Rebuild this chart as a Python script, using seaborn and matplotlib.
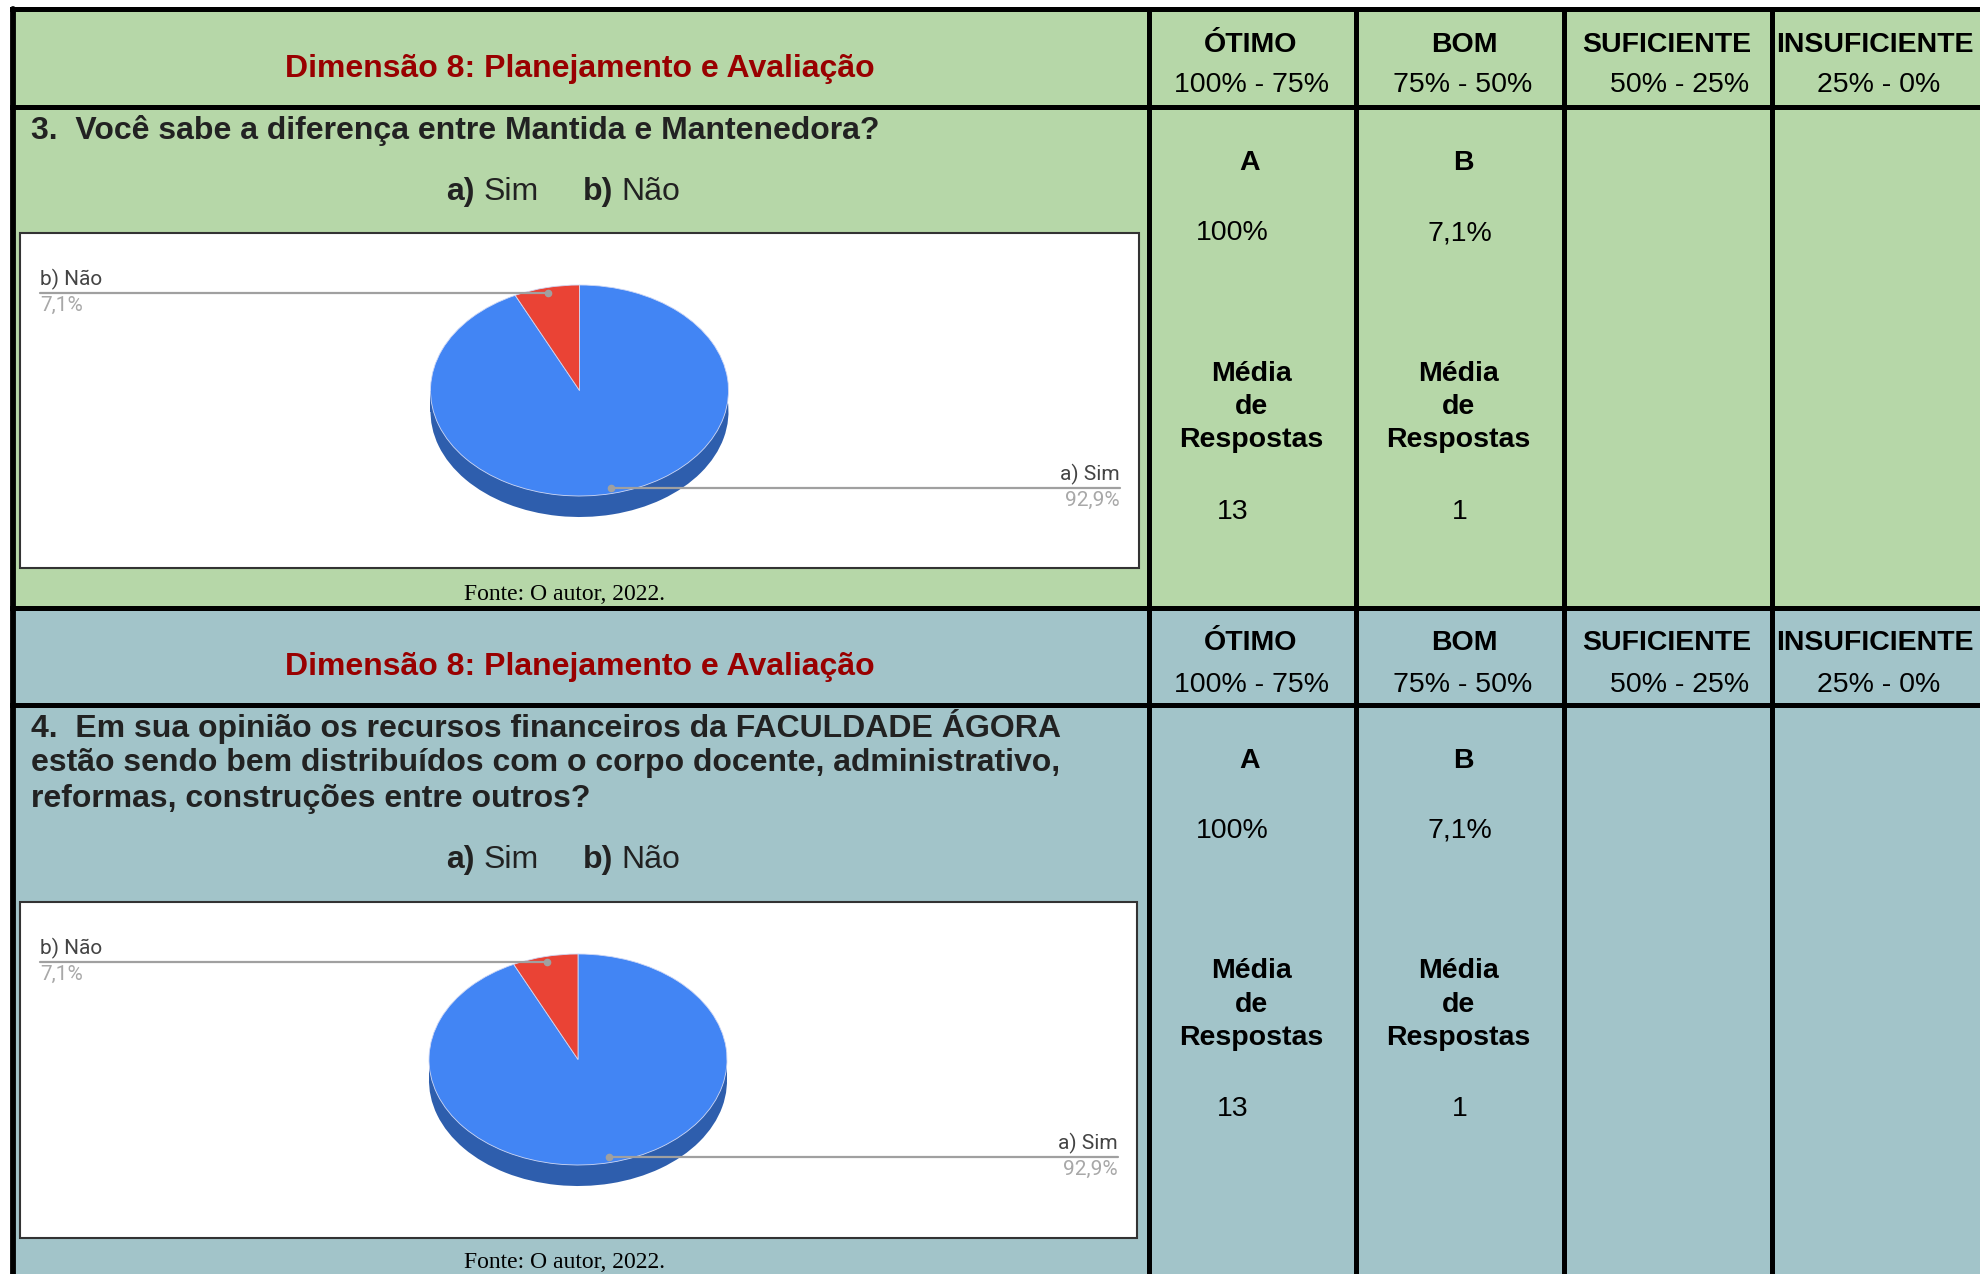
import numpy as np
import matplotlib
matplotlib.use("Agg")
import matplotlib.pyplot as plt
from matplotlib.patches import Rectangle
import seaborn as sns

# --- data ---
answers = ["a) Sim", "b) Não"]
q3_share = [92.9, 7.1]
q4_share = [92.9, 7.1]

dimension_title = "Dimensão 8: Planejamento e Avaliação"
q3_lines = ["3.  Você sabe a diferença entre Mantida e Mantenedora?"]
q4_lines = ["4.  Em sua opinião os recursos financeiros da FACULDADE ÁGORA",
            "estão sendo bem distribuídos com o corpo docente, administrativo,",
            "reformas, construções entre outros?"]
source_text = "Fonte: O autor, 2022."

grade_names = ["ÓTIMO", "BOM", "SUFICIENTE", "INSUFICIENTE"]
grade_ranges = ["100% - 75%", "75% - 50%", "50% - 25%", "25% - 0%"]
option_letters = ["A", "B"]
option_pct = ["100%", "7,1%"]
option_counts = ["13", "1"]

# --- style ---
sns.set_theme(style="white")
plt.rcParams["font.family"] = ["Liberation Sans", "DejaVu Sans"]

W, H = 1980, 1274
GREEN = "#b6d7a8"
TEAL = "#a2c4c9"
PIE_BLUE = "#4285f4"
PIE_SIDE = "#2e5ead"
PIE_RED = "#ea4335"
FS = 20.5       # right-hand table columns
FS_LEFT = 23    # title and question text

fig = plt.figure(figsize=(W / 100, H / 100), dpi=100, facecolor="white")
ax0 = fig.add_axes([0, 0, 1, 1])
ax0.set_xlim(0, W)
ax0.set_ylim(H, 0)
ax0.axis("off")

col_x = [1149, 1356, 1563.5, 1772, W]
name_x = [1251, 1464, 1667, 1875]
range_x = [1251, 1463, 1680, 1879]
letter_dx = [-3, 4]
value_dx = [-20, 0]


def draw_block(top, bottom, header_bottom, color, q_lines, q_y, opt_y, box, src_y):
    ax0.add_patch(Rectangle((12, top), W - 12, bottom - top, color=color, lw=0, zorder=0))
    # header row
    ax0.text(580, (top + header_bottom) / 2 + 11, dimension_title, color="#990000",
             fontsize=FS_LEFT, fontweight="bold", ha="center", va="center")
    for i in range(4):
        ax0.text(name_x[i], top + 36, grade_names[i], fontsize=FS, fontweight="bold",
                 ha="center", va="center", color="black")
        ax0.text(range_x[i], top + 77, grade_ranges[i], fontsize=FS,
                 ha="center", va="center", color="black")
    # question
    for k, line in enumerate(q_lines):
        ax0.text(31, q_y + 36.5 * k, line, fontsize=FS_LEFT, fontweight="bold",
                 color="#222222", ha="left", va="center")
    ax0.text(446, opt_y, "a)", fontsize=FS_LEFT, fontweight="bold", color="#222222", va="center")
    ax0.text(484, opt_y, "Sim", fontsize=FS_LEFT, color="#222222", va="center")
    ax0.text(583, opt_y, "b)", fontsize=FS_LEFT, fontweight="bold", color="#222222", va="center")
    ax0.text(621, opt_y, "Não", fontsize=FS_LEFT, color="#222222", va="center")
    # chart box
    x0, y0, x1, y1 = box
    ax0.add_patch(Rectangle((x0, y0), x1 - x0, y1 - y0, facecolor="white",
                            edgecolor="#333333", lw=1.5, zorder=1))
    ax0.text(565, src_y, source_text, family=["Liberation Serif", "DejaVu Serif"],
             fontsize=17, ha="center", va="center", color="black")
    # answer columns
    hb = header_bottom
    for i in range(2):
        cx = (col_x[i] + col_x[i + 1]) / 2
        ax0.text(cx + letter_dx[i], hb + 56, option_letters[i], fontsize=FS, fontweight="bold",
                 ha="center", va="center", color="black")
        ax0.text(cx + value_dx[i], hb + 126, option_pct[i], fontsize=FS,
                 ha="center", va="center", color="black")
        ax0.text(cx - 1, hb + 300, "Média\nde\nRespostas", fontsize=FS, fontweight="bold",
                 ha="center", va="center", color="black", linespacing=1.37)
        ax0.text(cx + value_dx[i], hb + 405, option_counts[i], fontsize=FS,
                 ha="center", va="center", color="black")
    # grid lines
    lw = 3.6
    ax0.plot([12, W], [top, top], color="black", lw=lw, solid_capstyle="projecting", zorder=3)
    ax0.plot([12, W], [hb, hb], color="black", lw=lw, solid_capstyle="projecting", zorder=3)
    for x in col_x[:-1]:
        ax0.plot([x, x], [top, bottom], color="black", lw=lw, zorder=3)
    ax0.plot([12.5, 12.5], [top, bottom], color="black", lw=4.2, zorder=3)


def draw_pie(values, box, cx, cy, a=149, b=105.5, depth=21):
    x0, y0, x1, y1 = box
    ax = fig.add_axes([x0 / W, 1 - y1 / H, (x1 - x0) / W, (y1 - y0) / H])
    d = depth / b
    # side of the 3D disc
    ax.pie(values, colors=[PIE_SIDE, PIE_SIDE], center=(0, -d), startangle=90,
           counterclock=False, wedgeprops=dict(linewidth=0))
    ax.add_patch(Rectangle((-1, -d), 2, d, color=PIE_SIDE, lw=0))
    wedges, _ = ax.pie(values, colors=[PIE_BLUE, PIE_RED], startangle=90,
                       counterclock=False, wedgeprops=dict(linewidth=0.6, edgecolor="#cfd8f5"))
    ax.set_aspect("auto")
    ax.set_xlim((x0 - cx) / a, (x1 - cx) / a)
    ax.set_ylim((cy - y1) / b, (cy - y0) / b)
    ax.axis("off")
    for w, lab, v in zip(wedges, answers, values):
        ang = np.deg2rad((w.theta1 + w.theta2) / 2)
        px, py = 0.95 * np.cos(ang), 0.95 * np.sin(ang)
        if px < 0:
            xe, ha = (x0 + 20 - cx) / a, "left"
        else:
            xe, ha = (x1 - 19 - cx) / a, "right"
        ax.plot([px, xe], [py, py], color="#a0a0a0", lw=1.6, zorder=5)
        ax.plot(px, py, "o", color="#a0a0a0", ms=4.5, zorder=6)
        ax.annotate(lab, (xe, py), xytext=(0, 9.8), textcoords="offset points",
                    ha=ha, va="center", fontsize=15, color="#444444",
                    family=["Roboto", "DejaVu Sans"])
        ax.annotate(f"{v:.1f}".replace(".", ",") + "%", (xe, py), xytext=(0, -9.0),
                    textcoords="offset points", ha=ha, va="center", fontsize=15,
                    color="#a8a8a8", family=["Roboto", "DejaVu Sans"])


box3 = (20, 233, 1139, 568)
box4 = (20, 902, 1137, 1238)
draw_block(8.5, 607.5, 107, GREEN, q3_lines, 131, 192, box3, 595)
draw_block(607.5, H + 5, 704.5, TEAL, q4_lines, 726, 860, box4, 1263)
draw_pie(q3_share, box3, 579.5, 390.5)
draw_pie(q4_share, box4, 578, 1059.5)

fig.savefig("out.png", dpi=100, facecolor="white")
